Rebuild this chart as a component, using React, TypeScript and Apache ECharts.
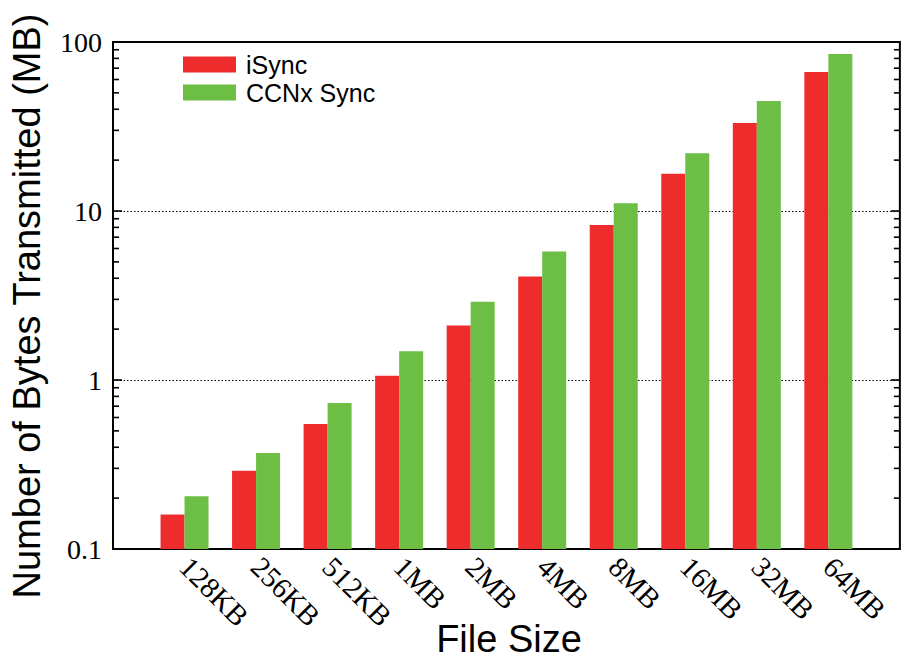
import React, { useEffect, useRef } from "react";
import * as echarts from "echarts";

const categories = ["128KB", "256KB", "512KB", "1MB", "2MB", "4MB", "8MB", "16MB", "32MB", "64MB"];
const iSyncValues = [0.16, 0.29, 0.55, 1.06, 2.1, 4.1, 8.25, 16.6, 33.2, 66.5];
const ccnxValues = [0.205, 0.37, 0.73, 1.48, 2.9, 5.75, 11.1, 22, 44.8, 85];
const minorTickValues = [0.2, 0.3, 0.4, 0.5, 0.6, 0.7, 0.8, 0.9, 2, 3, 4, 5, 6, 7, 8, 9, 20, 30, 40, 50, 60, 70, 80, 90];
const majorTickValues = [1, 10];
const axisMin = 0.1;
const axisMax = 100;

const RED = "#EE2C2C";
const GREEN = "#6CBE45";

export default function App() {
  const ref = useRef<HTMLDivElement>(null);
  useEffect(() => {
    if (!ref.current) return;
    const chart = echarts.init(ref.current, null, { renderer: "svg" });
    // padded category list so that the axis has a half band of room at each side
    const xData = ["", ...categories, ""];
    const pad = (arr: number[]) => [null, ...arr, null];
    const tickRender = (len: number) => (params: any, api: any) => {
      const v = api.value(1);
      const y = api.coord([1, v])[1];
      const cs = params.coordSys;
      return {
        type: "group",
        children: [
          { type: "line", shape: { x1: cs.x, y1: y, x2: cs.x + len, y2: y }, style: { stroke: "#000", lineWidth: 1.6 } },
          { type: "line", shape: { x1: cs.x + cs.width, y1: y, x2: cs.x + cs.width - len, y2: y }, style: { stroke: "#000", lineWidth: 1.6 } },
        ],
      };
    };
    chart.setOption({
      animation: false,
      backgroundColor: "#fff",
      grid: { left: 113, right: 1, top: 42, bottom: 110, show: true, borderColor: "#000", borderWidth: 2, backgroundColor: "transparent" },
      legend: {
        orient: "vertical",
        left: 178,
        top: 47,
        icon: "rect",
        itemWidth: 53,
        itemHeight: 16,
        itemGap: 3,
        textStyle: { fontFamily: "Liberation Sans", fontSize: 25, color: "#000", padding: [0, 0, 0, 5] },
        data: ["iSync", "CCNx Sync"],
      },
      xAxis: {
        type: "category",
        data: xData,
        boundaryGap: false,
        axisLine: { show: false },
        axisTick: { show: false },
        splitLine: { show: false },
        axisLabel: {
          interval: 0,
          rotate: -45,
          margin: 13,
          fontFamily: "Liberation Serif",
          fontSize: 29,
          color: "#000",
        },
      },
      yAxis: {
        type: "log",
        logBase: 10,
        min: axisMin,
        max: axisMax,
        startValue: axisMin,
        axisLine: { show: false },
        axisTick: { show: false },
        splitLine: { show: true, lineStyle: { color: "#000", type: [1.5, 2], width: 1 } },
        axisLabel: {
          margin: 11,
          fontFamily: "Liberation Serif",
          fontSize: 28,
          color: "#000",
          padding: [0, 0, 7, 0],
          formatter: (v: number) => (v >= 1 ? String(Math.round(v)) : v.toFixed(1)),
        },
      },
      series: [
        {
          name: "iSync",
          type: "bar",
          data: pad(iSyncValues),
          barWidth: 24,
          barGap: "0%",
          itemStyle: { color: RED },
        },
        {
          name: "CCNx Sync",
          type: "bar",
          data: pad(ccnxValues),
          barWidth: 24,
          barGap: "0%",
          itemStyle: { color: GREEN },
        },
        {
          name: "minorTicks",
          type: "custom",
          renderItem: tickRender(6),
          data: minorTickValues.map((v) => [1, v]),
          silent: true,
          clip: false,
          z: 5,
        },
        {
          name: "majorTicks",
          type: "custom",
          renderItem: tickRender(9),
          data: majorTickValues.map((v) => [1, v]),
          silent: true,
          clip: false,
          z: 5,
        },
      ],
      graphic: [
        {
          type: "text",
          x: 509,
          y: 639,
          style: {
            text: "File Size",
            fontFamily: "Liberation Sans",
            fontSize: 38,
            lineHeight: 38,
            fill: "#000",
            align: "center",
            verticalAlign: "middle",
            textAlign: "center",
            textVerticalAlign: "middle",
          },
        },
        {
          type: "text",
          x: 27,
          y: 306,
          rotation: Math.PI / 2,
          style: {
            text: "Number of Bytes Transmitted (MB)",
            fontFamily: "Liberation Sans",
            fontSize: 38,
            fill: "#000",
            align: "center",
            verticalAlign: "middle",
            textAlign: "center",
            textVerticalAlign: "middle",
          },
        },
      ],
    });
    return () => chart.dispose();
  }, []);
  return <div ref={ref} style={{ position: "fixed", left: 0, top: 0, width: 902, height: 659 }} />;
}
